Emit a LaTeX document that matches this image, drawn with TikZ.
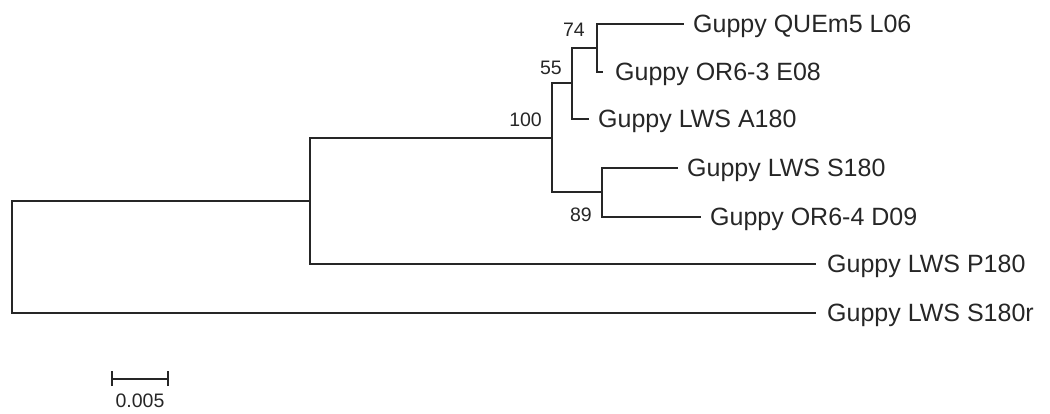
\documentclass[tikz,border=0pt]{standalone}
\usepackage{fontspec}
\setmainfont{Liberation Sans}
\begin{document}
\begin{tikzpicture}[x=1pt,y=-1pt,
  branch/.style={draw=black!85, line width=2pt, line cap=rect},
  leaf/.style={anchor=west, inner sep=0pt, text height=17.9pt, text depth=0pt, text=black!85,
    font=\fontsize{25}{25}\selectfont},
  boot/.style={anchor=base east, inner sep=0pt, text=black!85, font=\fontsize{19.5}{19.5}\selectfont},
  scalebar/.style={draw=black!85, line width=2pt}]
\useasboundingbox (0,0) rectangle (1050,414);
% leaf labels
\node[leaf] (q)   at (693,24)  {Guppy QUEm5 L06};
\node[leaf] (e08) at (615,72)  {Guppy OR6-3 E08};
\node[leaf] (a180) at (598,119) {Guppy LWS A180};
\node[leaf] (s180) at (687,168) {Guppy LWS S180};
\node[leaf] (d09) at (710,217) {Guppy OR6-4 D09};
\node[leaf] (p180) at (827,264) {Guppy LWS P180};
\node[leaf] (s180r) at (827,313) {Guppy LWS S180r};
% internal nodes
\coordinate (n74) at (597,48);
\coordinate (n55) at (572,83.5);
\coordinate (n89) at (602,192.5);
\coordinate (n100) at (552,138);
\coordinate (n2) at (310,201);
\coordinate (root) at (12,257);
% branches
\draw[branch] ([xshift=-10pt]q.west) -| (n74) |- ([xshift=-13pt]e08.west);
\draw[branch] (n74) -| (n55) |- ([xshift=-10pt]a180.west);
\draw[branch] ([xshift=-10pt]s180.west) -| (n89) |- ([xshift=-10pt]d09.west);
\draw[branch] (n55) -| (n100) |- (n89);
\draw[branch] (n100) -| (n2) |- ([xshift=-12pt]p180.west);
\draw[branch] (n2) -| (root) |- ([xshift=-12pt]s180r.west);
% bootstrap values
\node[boot] (b74) at (585,37) {74};
\node[boot] (b55) at (562,75) {55};
\node[boot] (b100) at (542,127) {100};
\node[boot] (b89) at (592,222) {89};
% scale bar
\coordinate (sb1) at (112,379);
\coordinate (sb2) at (168,379);
\draw[scalebar] (sb1) -- (sb2);
\draw[scalebar] ([yshift=-7pt]sb1) -- ([yshift=8pt]sb1);
\draw[scalebar] ([yshift=-7pt]sb2) -- ([yshift=8pt]sb2);
\node[anchor=base, inner sep=0pt, text=black!85, font=\fontsize{19.5}{19.5}\selectfont] (sbl) at (140,407) {0.005};
\end{tikzpicture}
\end{document}
